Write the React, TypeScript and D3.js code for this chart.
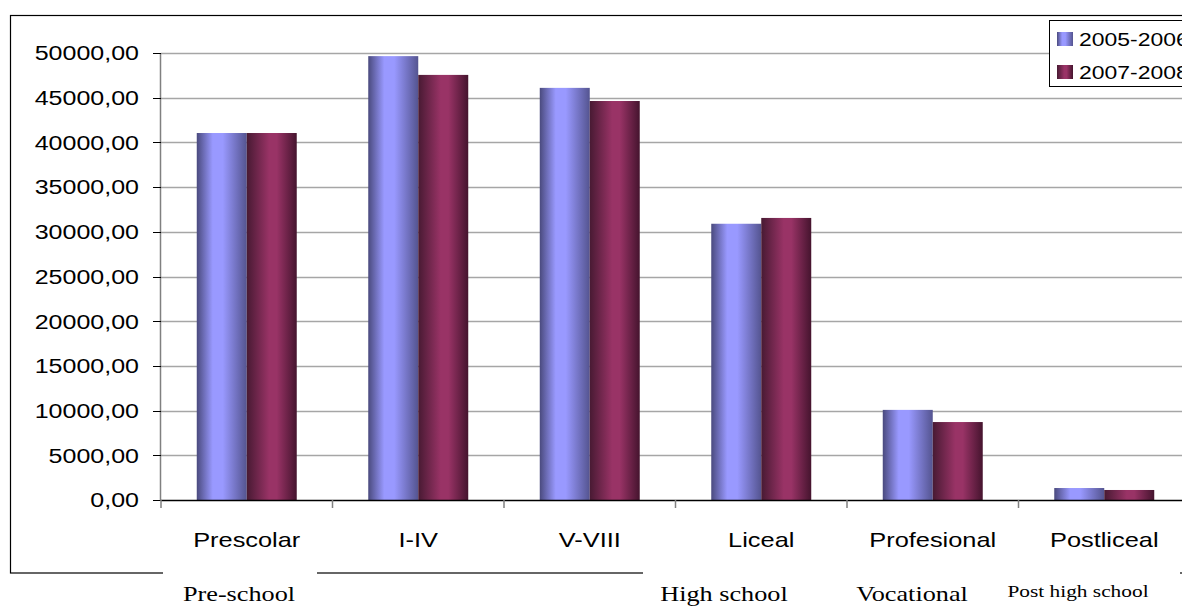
import React from "react";
import * as d3 from "d3";

const categories = ["Prescolar", "I-IV", "V-VIII", "Liceal", "Profesional", "Postliceal"];
const seriesNames = ["2005-2006", "2007-2008"];
const values2005 = [41050, 49650, 46100, 30900, 10080, 1340];
const values2007 = [41050, 47550, 44630, 31550, 8720, 1120];
const yTicks = [0, 5000, 10000, 15000, 20000, 25000, 30000, 35000, 40000, 45000, 50000];
const englishLabels = [
  { text: "Pre-school", x: 239, y: 601, size: 21.5 },
  { text: "High school", x: 724, y: 601, size: 21.5 },
  { text: "Vocational", x: 912, y: 601, size: 21.5 },
  { text: "Post high school", x: 1078, y: 597, size: 17.5 },
];

const W = 1182;
const H = 606;
const plot = { left: 161, right: 1190, top: 53, bottom: 500 };
const SX = 1.22; // horizontal stretch applied to all text

const fmt = (v: number) => d3.format(".2f")(v).replace(".", ",");

function SText(props: { x: number; y: number; anchor?: string; size: number; serif?: boolean; dy?: string; children: React.ReactNode }) {
  const { x, y, anchor = "start", size, serif, dy, children } = props;
  return (
    <text transform={`translate(${x},${y}) scale(${SX},1)`} textAnchor={anchor} fontSize={size} dy={dy}
      fontFamily={serif ? "'Liberation Serif', 'Times New Roman', serif" : "'Liberation Sans', Arial, sans-serif"}
      fill="#000">{children}</text>
  );
}

export default function App() {
  const x0 = d3.scaleBand<string>().domain(categories).range([plot.left, plot.right]).paddingInner(0).paddingOuter(0);
  const groupW = x0.bandwidth() * 0.583;
  const x1 = d3.scaleBand<string>().domain(seriesNames).range([0, groupW]);
  const y = d3.scaleLinear().domain([0, 50000]).range([plot.bottom, plot.top]);
  const series = [values2005, values2007];
  const fills = ["url(#gBlue)", "url(#gMaroon)"];

  return (
    <svg width={W} height={H} style={{ position: "absolute", left: 0, top: 0, background: "#fff" }}>
      <defs>
        <linearGradient id="gBlue" x1="0" x2="1" y1="0" y2="0">
          <stop offset="0" stopColor="#4a4a7e" />
          <stop offset="0.32" stopColor="#9999ff" />
          <stop offset="0.52" stopColor="#9999ff" />
          <stop offset="1" stopColor="#545490" />
        </linearGradient>
        <linearGradient id="gMaroon" x1="0" x2="1" y1="0" y2="0">
          <stop offset="0" stopColor="#481a33" />
          <stop offset="0.45" stopColor="#993366" />
          <stop offset="0.6" stopColor="#993366" />
          <stop offset="1" stopColor="#45142e" />
        </linearGradient>
      </defs>

      {/* outer frame */}
      <rect x={10.5} y={15.5} width={1200} height={557.5} fill="none" stroke="#000" strokeWidth={1.2} />

      {/* gridlines */}
      {yTicks.filter((t) => t > 0).map((t) => (
        <line key={t} x1={plot.left} x2={W} y1={Math.round(y(t)) + 0.5} y2={Math.round(y(t)) + 0.5}
          stroke="#a6a6a6" strokeWidth={1.3} />
      ))}

      {/* y axis */}
      <line x1={plot.left - 0.5} x2={plot.left - 0.5} y1={plot.top} y2={plot.bottom} stroke="#808080" strokeWidth={1.5} />
      {yTicks.map((t) => (
        <g key={t}>
          <line x1={plot.left - 8} x2={plot.left} y1={Math.round(y(t)) + 0.5} y2={Math.round(y(t)) + 0.5} stroke="#000" />
          <SText x={139} y={y(t)} dy="0.36em" anchor="end" size={20.5}>{fmt(t)}</SText>
        </g>
      ))}

      {/* bars */}
      {categories.map((c, i) => (
        <g key={c} transform={`translate(${(x0(c) as number) + (x0.bandwidth() - groupW) / 2},0)`}>
          {series.map((vals, s) => (
            <rect key={s} x={x1(seriesNames[s])} y={y(vals[i])} width={x1.bandwidth()}
              height={y(0) - y(vals[i])} fill={fills[s]} />
          ))}
        </g>
      ))}

      {/* x axis */}
      <line x1={plot.left} x2={W} y1={plot.bottom + 0.5} y2={plot.bottom + 0.5} stroke="#000" strokeWidth={1.5} />
      {categories.map((c) => (
        <line key={c} x1={x0(c) as number} x2={x0(c) as number}
          y1={plot.bottom} y2={plot.bottom + 8} stroke="#808080" strokeWidth={1.5} />
      ))}
      {categories.map((c) => (
        <SText key={c} x={(x0(c) as number) + x0.bandwidth() / 2} y={547} anchor="middle" size={20.8}>{c}</SText>
      ))}

      {/* legend */}
      <rect x={1049.5} y={20.5} width={160} height={66} fill="#fff" stroke="#000" strokeWidth={1} />
      {seriesNames.map((n, s) => (
        <g key={n}>
          <rect x={1057} y={32 + s * 33} width={16} height={14} fill={fills[s]} />
          <SText x={1079} y={46 + s * 33} size={18.8}>{n}</SText>
        </g>
      ))}

      {/* English caption boxes */}
      <rect x={163} y={566} width={154} height={40} fill="#fff" />
      <rect x={643} y={566} width={537} height={40} fill="#fff" />
      {englishLabels.map((l) => (
        <SText key={l.text} x={l.x} y={l.y} anchor="middle" size={l.size} serif>{l.text}</SText>
      ))}
    </svg>
  );
}
